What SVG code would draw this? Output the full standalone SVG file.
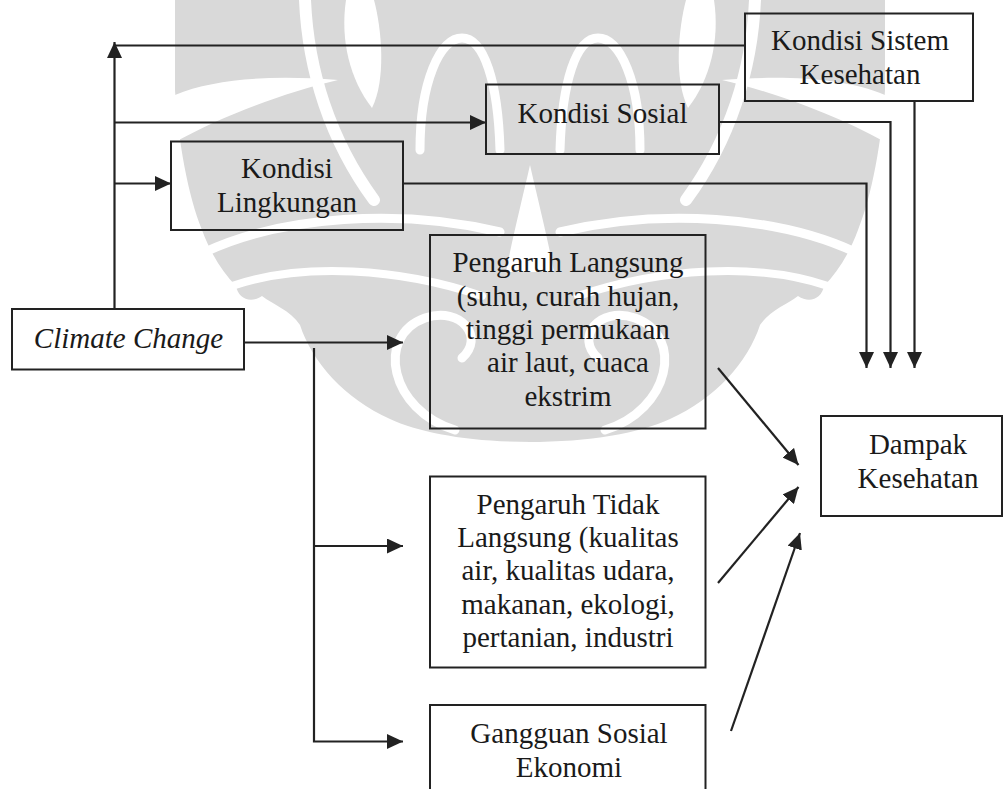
<svg xmlns="http://www.w3.org/2000/svg" xmlns:xlink="http://www.w3.org/1999/xlink" width="1003" height="789" viewBox="0 0 1003 789">
  <defs>
    <style>
      .box { fill: none; stroke: #222; stroke-width: 2; }
      .wire { fill: none; stroke: #222; stroke-width: 2.2; }
      .lbl { font-family: "Liberation Serif", "Times New Roman", serif; font-size: 29px; fill: #1a1a1a; text-anchor: middle; }
      .it { font-style: italic; }
      .orn { fill: #d9d9d9; }
      .cut { fill: none; stroke: #fff; stroke-linecap: round; }
      .hole { fill: #fff; }
    </style>
    <marker id="head" markerUnits="userSpaceOnUse" markerWidth="16" markerHeight="15" refX="16" refY="7.5" orient="auto">
      <path d="M0,0 L16,7.5 L0,15 Z" fill="#222"/>
    </marker>
    <!-- left half of the symmetric ornament (axis x = 530) -->
    <path id="orn-base" d="M175,0 H532 V442 C 470,442 420,433 390,419 C 345,399 312,362 300,325 C 290,310 272,304 262,296 C 250,304 238,298 236,286 C 222,272 210,252 202,230 C 188,196 178,140 175,90 Z"/>
    <g id="orn-cuts">
      <path class="hole" d="M175,95 C 215,78 275,75 338,80 C 287,92 226,114 175,142 Z"/>
      <path class="cut" stroke-width="12" d="M305,0 C 308,70 330,140 374,200"/>
      <path class="hole" d="M346,0 C 340,40 350,80 372,108 C 386,80 382,30 374,0 Z"/>
      <path class="cut" stroke-width="9" d="M420,150 C 420,82 440,38 462,38 C 484,38 498,82 500,150"/>
      <path class="cut" stroke-width="9" d="M205,252 C 282,216 400,208 500,232"/>
      <path class="cut" stroke-width="8" d="M232,286 C 302,262 400,268 482,296"/>
      <path class="cut" stroke-width="9" d="M455,430 C 390,410 375,336 425,318 C 462,306 485,338 462,358"/>
    </g>
  </defs>

  <rect width="1003" height="789" fill="#fff"/>

  <!-- light ornamental backdrop -->
  <g id="backdrop">
    <use xlink:href="#orn-base" class="orn"/>
    <use xlink:href="#orn-base" class="orn" transform="translate(1060,0) scale(-1,1)"/>
    <use xlink:href="#orn-cuts"/>
    <use xlink:href="#orn-cuts" transform="translate(1060,0) scale(-1,1)"/>
    <path class="hole" d="M530,165 C 522,200 512,240 506,272 L554,272 C 548,240 538,200 530,165 Z"/>
  </g>

  <!-- connectors -->
  <g id="connectors">
    <path class="wire" d="M114.5,309 V42" marker-end="url(#head)"/>
    <path class="wire" d="M114.5,45.5 H745"/>
    <path class="wire" d="M114.5,122.5 H486" marker-end="url(#head)"/>
    <path class="wire" d="M114.5,183.5 H171" marker-end="url(#head)"/>
    <path class="wire" d="M403,183.5 H866.5 V368" marker-end="url(#head)"/>
    <path class="wire" d="M719,122 H890.5 V368" marker-end="url(#head)"/>
    <path class="wire" d="M914.5,101 V368" marker-end="url(#head)"/>
    <path class="wire" d="M244,342.5 H403" marker-end="url(#head)"/>
    <path class="wire" d="M314,348 V741.5 H403" marker-end="url(#head)"/>
    <path class="wire" d="M314,546 H403" marker-end="url(#head)"/>
    <path class="wire" d="M718,368 L798.5,465" marker-end="url(#head)"/>
    <path class="wire" d="M718,583 L798.5,487" marker-end="url(#head)"/>
    <path class="wire" d="M731,731 L800,533" marker-end="url(#head)"/>
  </g>

  <g id="kondisi-sistem">
    <rect class="box" x="745" y="13.5" width="228" height="87.5"/>
    <text class="lbl" x="860" y="50">Kondisi Sistem</text>
    <text class="lbl" x="860" y="83.5">Kesehatan</text>
  </g>

  <g id="kondisi-sosial">
    <rect class="box" x="486" y="84.5" width="233" height="69.5"/>
    <text class="lbl" x="602.5" y="123">Kondisi Sosial</text>
  </g>

  <g id="kondisi-lingkungan">
    <rect class="box" x="171" y="141.5" width="232" height="88.5"/>
    <text class="lbl" x="287" y="178">Kondisi</text>
    <text class="lbl" x="287" y="212">Lingkungan</text>
  </g>

  <g id="climate-change">
    <rect class="box" x="12" y="309" width="232" height="60.5"/>
    <text class="lbl it" x="128.5" y="348">Climate Change</text>
  </g>

  <g id="pengaruh-langsung">
    <rect class="box" x="430" y="235" width="275.5" height="193.5"/>
    <text class="lbl" x="568" y="272">Pengaruh Langsung</text>
    <text class="lbl" x="568" y="306">(suhu, curah hujan,</text>
    <text class="lbl" x="568" y="339">tinggi permukaan</text>
    <text class="lbl" x="568" y="372">air laut, cuaca</text>
    <text class="lbl" x="568" y="406">ekstrim</text>
  </g>

  <g id="pengaruh-tidak-langsung">
    <rect class="box" x="430" y="476.5" width="275.5" height="191"/>
    <text class="lbl" x="568" y="513.5">Pengaruh Tidak</text>
    <text class="lbl" x="568" y="547">Langsung (kualitas</text>
    <text class="lbl" x="568" y="580">air, kualitas udara,</text>
    <text class="lbl" x="568" y="613.5">makanan, ekologi,</text>
    <text class="lbl" x="568" y="647">pertanian, industri</text>
  </g>

  <g id="gangguan-sosial-ekonomi">
    <rect class="box" x="430" y="705" width="275.5" height="100"/>
    <text class="lbl" x="569" y="743">Gangguan Sosial</text>
    <text class="lbl" x="569" y="777">Ekonomi</text>
  </g>

  <g id="dampak-kesehatan">
    <rect class="box" x="821" y="416" width="181" height="100"/>
    <text class="lbl" x="918" y="453.5">Dampak</text>
    <text class="lbl" x="918" y="487.5">Kesehatan</text>
  </g>
</svg>
